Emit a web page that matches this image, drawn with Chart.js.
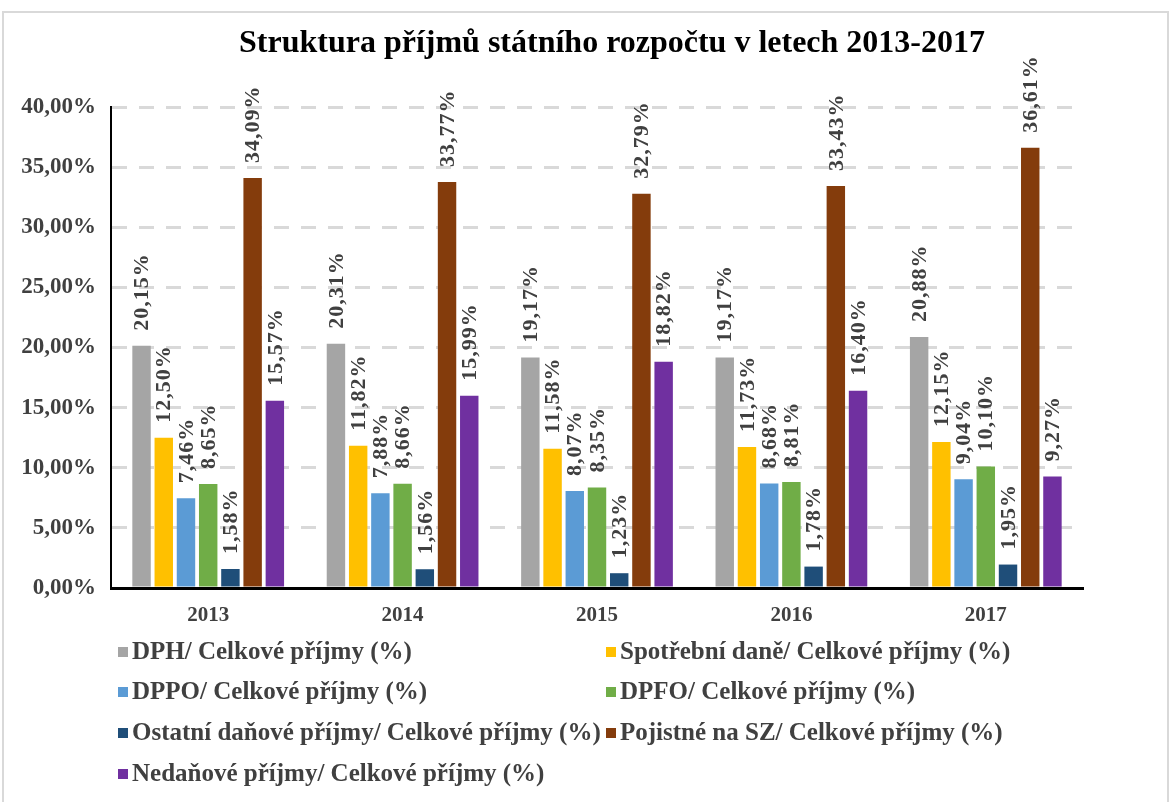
<!DOCTYPE html>
<html>
<head>
<meta charset="utf-8">
<script src="https://cdn.jsdelivr.net/npm/chart.js@4/dist/chart.umd.min.js"></script>
<style>
  html, body { margin: 0; padding: 0; background: #fff; }
  canvas { display: block; }
</style>
</head>
<body>
<canvas id="canvas" width="1171" height="802"></canvas>
<script>
var years = ['2013', '2014', '2015', '2016', '2017'];
var dph = [20.15, 20.31, 19.17, 19.17, 20.88];
var spotrebni = [12.50, 11.82, 11.58, 11.73, 12.15];
var dppo = [7.46, 7.88, 8.07, 8.68, 9.04];
var dpfo = [8.65, 8.66, 8.35, 8.81, 10.10];
var ostatni = [1.58, 1.56, 1.23, 1.78, 1.95];
var pojistne = [34.09, 33.77, 32.79, 33.43, 36.61];
var nedanove = [15.57, 15.99, 18.82, 16.40, 9.27];
var yTicks = [0, 5, 10, 15, 20, 25, 30, 35, 40];

var serif = '"Liberation Serif", "Times New Roman", serif';
var textGray = '#404040';

function pct(v) {
    return v.toFixed(2).replace('.', ',') + '%';
}

// labels above the bars, rotated
var barLabels = {
    id: 'barLabels',
    afterDatasetsDraw: function(chart) {
        var ctx = chart.ctx;
        ctx.save();
        ctx.font = 'bold 22px ' + serif;
        ctx.letterSpacing = '1px';
        ctx.fillStyle = textGray;
        ctx.textAlign = 'left';
        ctx.textBaseline = 'middle';
        chart.data.datasets.forEach(function(ds, i) {
            chart.getDatasetMeta(i).data.forEach(function(bar, j) {
                ctx.save();
                ctx.translate(bar.x + 1, bar.y - 15);
                ctx.rotate(-Math.PI / 2);
                ctx.fillText(pct(ds.data[j]), 0, 0);
                ctx.restore();
            });
        });
        ctx.restore();
    }
};

// frame, title and the two-column legend
var decor = {
    id: 'decor',
    beforeDraw: function(chart) {
        var ctx = chart.ctx;
        ctx.save();
        ctx.strokeStyle = '#d9d9d9';
        ctx.lineWidth = 2;
        ctx.strokeRect(3, 12, 1165, 800);
        ctx.restore();
    },
    afterDraw: function(chart) {
        var ctx = chart.ctx;
        ctx.save();
        ctx.font = 'bold 32px ' + serif;
        ctx.fillStyle = '#000';
        ctx.textAlign = 'center';
        ctx.textBaseline = 'middle';
        ctx.fillText('Struktura příjmů státního rozpočtu v letech 2013-2017', 612, 44);

        var colX = [118, 606];
        var rowY = [653, 693, 734, 775];
        ctx.font = 'bold 25px ' + serif;
        ctx.textAlign = 'left';
        chart.data.datasets.forEach(function(ds, i) {
            var x = colX[i % 2], y = rowY[Math.floor(i / 2)];
            ctx.fillStyle = ds.backgroundColor;
            ctx.fillRect(x, y - 6, 10, 10);
            ctx.fillStyle = textGray;
            ctx.fillText(ds.label, x + 14, y);
        });
        ctx.restore();
    }
};

var ctx = document.getElementById('canvas').getContext('2d');
var myChart = new Chart(ctx, {
    type: 'bar',
    data: {
        labels: years,
        datasets: [
            { label: 'DPH/ Celkové příjmy (%)', data: dph, backgroundColor: '#A5A5A5' },
            { label: 'Spotřební daně/ Celkové příjmy (%)', data: spotrebni, backgroundColor: '#FFC000' },
            { label: 'DPPO/ Celkové příjmy (%)', data: dppo, backgroundColor: '#5B9BD5' },
            { label: 'DPFO/ Celkové příjmy (%)', data: dpfo, backgroundColor: '#70AD47' },
            { label: 'Ostatní daňové příjmy/ Celkové příjmy (%)', data: ostatni, backgroundColor: '#1F4E79' },
            { label: 'Pojistné na SZ/ Celkové příjmy (%)', data: pojistne, backgroundColor: '#843C0C' },
            { label: 'Nedaňové příjmy/ Celkové příjmy (%)', data: nedanove, backgroundColor: '#7030A0' }
        ]
    },
    options: {
        responsive: false,
        animation: false,
        datasets: {
            bar: { categoryPercentage: 0.8, barPercentage: 0.83 }
        },
        layout: {
            padding: { left: 11, right: 88, top: 107, bottom: 174 }
        },
        plugins: {
            legend: { display: false },
            title: { display: false },
            tooltip: { enabled: false }
        },
        scales: {
            x: {
                grid: { display: false },
                border: { color: '#000', width: 3 },
                ticks: {
                    color: textGray,
                    padding: 7,
                    font: { family: serif, size: 21, weight: 'bold' }
                },
                afterFit: function(scale) { scale.height = 40; }
            },
            y: {
                min: 0,
                max: 40,
                afterBuildTicks: function(scale) {
                    scale.ticks = yTicks.map(function(v) { return { value: v }; });
                },
                ticks: {
                    color: textGray,
                    padding: 15,
                    font: { family: serif, size: 23, weight: 'bold' },
                    callback: function(v) { return pct(v); }
                },
                grid: { color: '#d9d9d9', lineWidth: 3, drawTicks: false },
                border: { color: '#000', width: 2, dash: [15, 12] },
                afterFit: function(scale) { scale.width = 100; }
            }
        }
    },
    plugins: [barLabels, decor]
});
</script>
</body>
</html>
